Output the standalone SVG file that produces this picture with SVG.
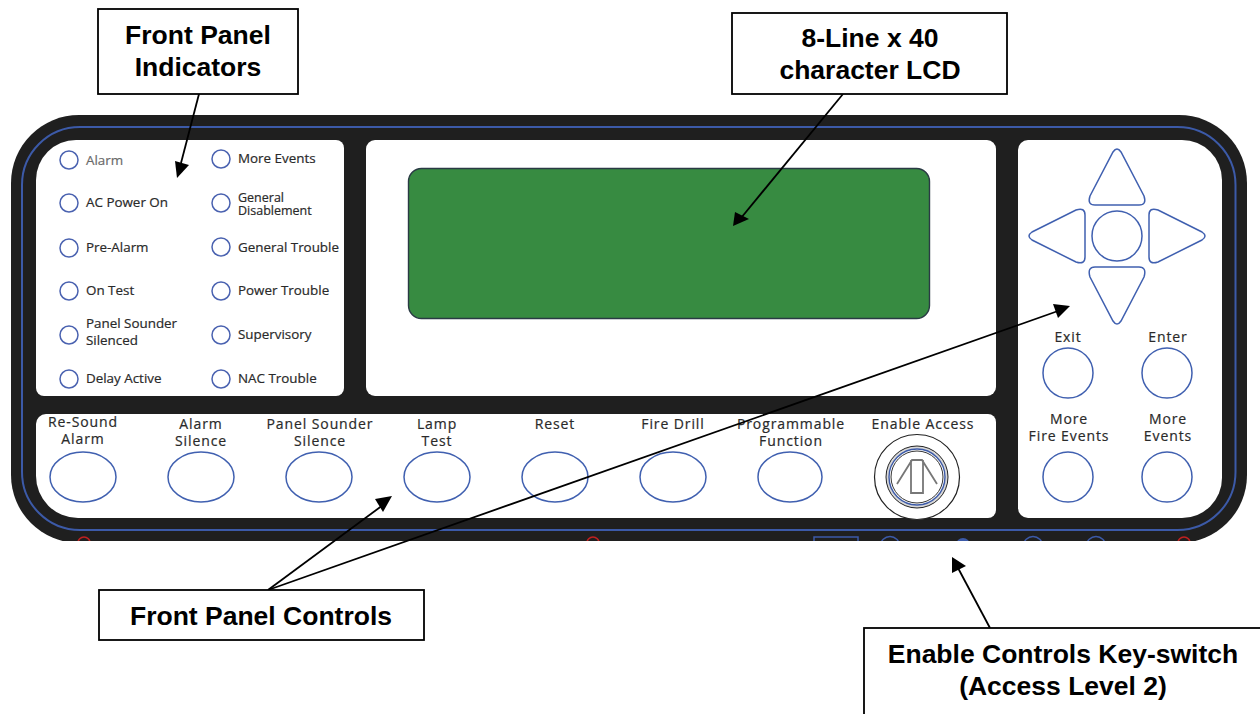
<svg xmlns="http://www.w3.org/2000/svg" width="1260" height="714" viewBox="0 0 1260 714">
<style>
.call{fill:#fff;stroke:#000;stroke-width:1.8}
.ct{font-family:"Liberation Sans",Arial,sans-serif;font-weight:700;font-size:26.500px;fill:#000;text-anchor:middle}
.pt{font-family:"Open Sans","DejaVu Sans",sans-serif;font-size:13.400px;fill:#2a2a2a;stroke:#2a2a2a;stroke-width:.2}
.w{font-size:14px;letter-spacing:.9px;text-anchor:middle}
.led{fill:#fff;stroke:#4a62b0;stroke-width:1.5}
.btn{fill:#fff;stroke:#4060b0;stroke-width:1.5}
.wh{fill:#fff}
.conn{stroke:#000;stroke-width:1.8;fill:none}
.ah{fill:#000;stroke:none}
.rd{fill:none;stroke:#c02020;stroke-width:1.6}
.bl{fill:none;stroke:#3c5aa8;stroke-width:1.5}
</style>
<defs>
<clipPath id="c"><rect x="0" y="100" width="1260" height="441"/></clipPath>
</defs>
<rect width="1260" height="714" fill="#fff"/>
<g id="panel" clip-path="url(#c)">
<rect x="11" y="115" width="1236" height="428" rx="68" fill="#1f1f1f"/>
<rect x="22" y="127" width="1213.500" height="403" rx="58" fill="none" stroke="#3c5aa8" stroke-width="2"/>
<path class="wh" d="M76 140H336a8 8 0 0 1 8 8V388a8 8 0 0 1-8 8H44a8 8 0 0 1-8-8V180a40 40 0 0 1 40-40z"/>
<rect class="wh" x="366" y="140" width="630" height="256" rx="9"/>
<path class="wh" d="M46 414H988a8 8 0 0 1 8 8V510a8 8 0 0 1-8 8H78a42 42 0 0 1-42-42V424a10 10 0 0 1 10-10z"/>
<path class="wh" d="M1028 140H1182a40 40 0 0 1 40 40V478a40 40 0 0 1-40 40H1028a10 10 0 0 1-10-10V150a10 10 0 0 1 10-10z"/>
<circle class="rd" cx="84" cy="543" r="6"/>
<circle class="rd" cx="593" cy="543" r="6"/>
<circle class="rd" cx="1184" cy="543" r="6"/>
<rect class="bl" x="814" y="537" width="44" height="12"/>
<circle class="bl" cx="890" cy="546" r="9.500"/>
<circle cx="963" cy="545" r="7" fill="#3c5aa8"/>
<circle class="bl" cx="1033" cy="546" r="9.500"/>
<circle class="bl" cx="1096" cy="546" r="9.500"/>
</g>
<g id="indicators">
<circle class="led" cx="69" cy="160" r="9"/><text class="pt" x="86" y="165" opacity=".7">Alarm</text>
<circle class="led" cx="69" cy="203" r="9"/><text class="pt" x="86" y="207">AC Power On</text>
<circle class="led" cx="69" cy="248" r="9"/><text class="pt" x="86" y="252">Pre-Alarm</text>
<circle class="led" cx="69" cy="291" r="9"/><text class="pt" x="86" y="295">On Test</text>
<circle class="led" cx="69" cy="335" r="9"/><text class="pt" x="86" y="328">Panel Sounder</text><text class="pt" x="86" y="345">Silenced</text>
<circle class="led" cx="69" cy="379" r="9"/><text class="pt" x="86" y="383">Delay Active</text>
<circle class="led" cx="221" cy="159" r="9"/><text class="pt" x="238" y="163">More Events</text>
<circle class="led" cx="221" cy="203" r="9"/><text class="pt" x="238" y="202" style="font-size:12.500px">General</text><text class="pt" x="238" y="215" style="font-size:12.500px">Disablement</text>
<circle class="led" cx="221" cy="247" r="9"/><text class="pt" x="238" y="252">General Trouble</text>
<circle class="led" cx="221" cy="291" r="9"/><text class="pt" x="238" y="295">Power Trouble</text>
<circle class="led" cx="221" cy="335" r="9"/><text class="pt" x="238" y="339">Supervisory</text>
<circle class="led" cx="221" cy="379" r="9"/><text class="pt" x="238" y="383">NAC Trouble</text>
</g>
<g id="lcd"><rect x="408.500" y="168.500" width="521" height="150" rx="13" fill="#378b41" stroke="#2a3a44" stroke-width="1.4"/></g>
<g id="controls">
<text class="pt w" x="83" y="427">Re-Sound</text><text class="pt w" x="83" y="444">Alarm</text><ellipse class="btn" cx="83" cy="477" rx="33" ry="25"/>
<text class="pt w" x="201" y="429">Alarm</text><text class="pt w" x="201" y="446">Silence</text><ellipse class="btn" cx="201" cy="477" rx="33" ry="25"/>
<text class="pt w" x="320" y="429">Panel Sounder</text><text class="pt w" x="320" y="446">Silence</text><ellipse class="btn" cx="319" cy="477" rx="33" ry="25"/>
<text class="pt w" x="437" y="429">Lamp</text><text class="pt w" x="437" y="446">Test</text><ellipse class="btn" cx="437" cy="477" rx="33" ry="25"/>
<text class="pt w" x="555" y="429">Reset</text><ellipse class="btn" cx="555" cy="477" rx="33" ry="25"/>
<text class="pt w" x="673" y="429">Fire Drill</text><ellipse class="btn" cx="673" cy="477" rx="33" ry="25"/>
<text class="pt w" x="791" y="429">Programmable</text><text class="pt w" x="791" y="446">Function</text><ellipse class="btn" cx="790" cy="477" rx="32" ry="25"/>
</g>
<g id="keyswitch">
<text class="pt w" x="923" y="429">Enable Access</text>
<circle cx="917" cy="477" r="42.500" fill="#fff" stroke="#222" stroke-width="1.2"/>
<circle cx="917" cy="477" r="31" fill="#d8d8d8" stroke="#222" stroke-width="1"/>
<circle cx="917" cy="477" r="28" fill="#fff" stroke="#3c5aa8" stroke-width="1.4"/>
<circle cx="917" cy="477" r="26" fill="none" stroke="#333" stroke-width="1"/>
<path d="M897 484L912 460H922L937 484M911 460V493H923V460" fill="none" stroke="#777" stroke-width="1.8"/>
</g>
<g id="navigation">
<path class="btn" d="M1113 152Q1117 146 1121 152L1144 196Q1147 205 1139 205H1095Q1087 205 1090 196Z"/>
<path class="btn" d="M1113 321Q1117 327 1121 321L1144 277Q1147 267 1139 267H1095Q1087 267 1090 277Z"/>
<path class="btn" d="M1032 232Q1026 236 1032 240L1076 262Q1085 265 1085 257V215Q1085 207 1076 210Z"/>
<path class="btn" d="M1202 232Q1208 236 1202 240L1158 262Q1149 265 1149 257V215Q1149 207 1158 210Z"/>
<circle class="btn" cx="1117" cy="236" r="25"/>
<text class="pt w" x="1068" y="342">Exit</text><circle class="btn" cx="1068" cy="373" r="25"/>
<text class="pt w" x="1168" y="342">Enter</text><circle class="btn" cx="1167" cy="373" r="25"/>
<text class="pt w" x="1069" y="424">More</text><text class="pt w" x="1069" y="441">Fire Events</text><circle class="btn" cx="1068" cy="477" r="25"/>
<text class="pt w" x="1168" y="424">More</text><text class="pt w" x="1168" y="441">Events</text><circle class="btn" cx="1167" cy="477" r="25"/>
</g>
<g id="connectors">
<line class="conn" x1="199" y1="94" x2="181" y2="163"/><path class="ah" d="M177 178L175 161L189 165Z"/>
<line class="conn" x1="843" y1="94" x2="741" y2="218"/><path class="ah" d="M733 226L735 212L749 219Z"/>
<line class="conn" x1="268" y1="590" x2="383" y2="505"/><path class="ah" d="M392 496L375 499L383 512Z"/>
<line class="conn" x1="268" y1="590" x2="1058" y2="311"/><path class="ah" d="M1070 306L1053 304L1058 318Z"/>
<line class="conn" x1="990" y1="628" x2="958" y2="568"/><path class="ah" d="M952 557L952 573L966 566Z"/>
</g>
<g id="label-indicators"><rect class="call" x="98" y="9" width="200" height="85"/><text class="ct" x="198" y="44">Front Panel</text><text class="ct" x="198" y="76">Indicators</text></g>
<g id="label-lcd"><rect class="call" x="732" y="13" width="275" height="81"/><text class="ct" x="870" y="47">8-Line x 40</text><text class="ct" x="870" y="79">character LCD</text></g>
<g id="label-controls"><rect class="call" x="99" y="590" width="325" height="50"/><text class="ct" x="261" y="625">Front Panel Controls</text></g>
<g id="label-keyswitch"><rect class="call" x="864" y="628" width="398" height="92"/><text class="ct" x="1063" y="663">Enable Controls Key-switch</text><text class="ct" x="1063" y="695">(Access Level 2)</text></g>
</svg>
